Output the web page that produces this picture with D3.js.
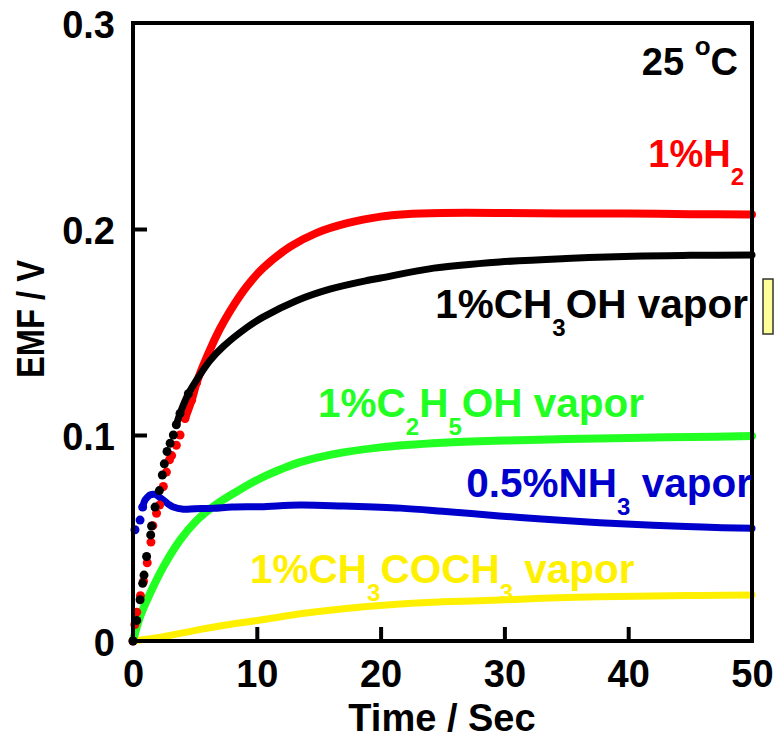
<!DOCTYPE html>
<html><head><meta charset="utf-8">
<script src="https://cdn.jsdelivr.net/npm/d3@7"></script>
<style>body{margin:0;background:#fff}svg{display:block}text{font-family:"Liberation Sans",Arial,sans-serif;font-weight:bold}</style>
</head><body>
<svg id="c" width="778" height="740"></svg>
<script>
const xTicks = [0, 10, 20, 30, 40, 50];
const yTicks = [0, 0.1, 0.2, 0.3];
const yTickLabels = ["0", "0.1", "0.2", "0.3"];

const h2T = [0,0.15,0.3,0.6,0.85,1.15,1.45,1.6,1.9,2.15,2.45,2.7,2.95,3.12,3.5,3.8,4.2,4.74,5.14,5.68,6.36,7.03,7.8,9.2,10.5,12.7,14.8,17.3,20,22,25,30,35,40,45,50];
const h2V = [0,0.008,0.014,0.022,0.029,0.038,0.048,0.056,0.062,0.066,0.075,0.082,0.088,0.09,0.095,0.1,0.108,0.117,0.1254,0.1339,0.1433,0.1516,0.1598,0.1722,0.181,0.1914,0.198,0.2028,0.206,0.2072,0.2078,0.2078,0.2075,0.2075,0.2072,0.207];

const meT = [0,0.3,0.57,0.78,0.89,1.1,1.43,1.5,1.78,2.13,2.37,2.53,2.75,3.0,3.26,3.5,3.8,4.47,5.14,6.2,7.3,9.2,10.5,13.2,15.9,18.9,20,24.3,29.6,35,40.4,45,50];
const meV = [0,0.01,0.02,0.028,0.032,0.041,0.0515,0.0558,0.065,0.073,0.0806,0.086,0.092,0.096,0.1,0.105,0.1105,0.12,0.1267,0.136,0.143,0.1522,0.1572,0.1652,0.1708,0.175,0.1762,0.181,0.184,0.1857,0.1868,0.1872,0.1874];

const etT = [0,0.57,1.37,2.45,3.8,5.14,6.76,8.64,10.3,12,13.5,16,20,25,30,35,40,45,50];
const etV = [0,0.0118,0.023,0.036,0.049,0.0585,0.0665,0.0735,0.079,0.0835,0.0868,0.0905,0.094,0.0962,0.0973,0.098,0.0986,0.099,0.0995];

const nhT = [0.16,0.57,0.78,0.97,1.2,1.37,1.78,2.1,2.45,2.85,3.26,4.07,5,6.5,8,10.3,13.5,17,21.6,25,29.6,33,37.7,42,46,50];
const nhV = [0.054,0.0587,0.065,0.0684,0.070,0.0709,0.0712,0.070,0.0684,0.0665,0.065,0.064,0.0642,0.0644,0.065,0.0652,0.066,0.0655,0.0645,0.063,0.0607,0.0592,0.0574,0.0562,0.0553,0.0547];

const acT = [0,2.45,5.14,7.5,10.3,13.5,17,21.6,25,29.6,33,37.7,42,46,50];
const acV = [0,0.0021,0.0053,0.0078,0.0102,0.0132,0.0157,0.018,0.019,0.0199,0.0207,0.0215,0.0219,0.0221,0.0223];

const svg = d3.select("#c");
const x = d3.scaleLinear().domain([0, 50]).range([133, 752]);
const y = d3.scaleLinear().domain([0, 0.3]).range([641, 23]);

const series = [
  {t: acT, v: acV, color: "#fff000", w: 7, dotsUntil: -1, lineFrom: 0},
  {t: etT, v: etV, color: "#22ff22", w: 8, dotsUntil: -1, lineFrom: 0},
  {t: nhT, v: nhV, color: "#0000cc", w: 7, dotsUntil: 2, lineFrom: 2},
  {t: h2T, v: h2V, color: "#ff0000", w: 8, dotsUntil: 18, lineFrom: 16},
  {t: meT, v: meV, color: "#000000", w: 7, dotsUntil: 17, lineFrom: 15}
];
const line = d3.line().x(d => x(d[0])).y(d => y(d[1])).curve(d3.curveCatmullRom.alpha(0.5));
series.forEach(s => {
  const pts = s.t.map((t, i) => [t, s.v[i]]);
  svg.append("path").attr("d", line(pts.slice(s.lineFrom)))
    .attr("fill", "none").attr("stroke", s.color).attr("stroke-width", s.w)
    .attr("stroke-linecap", "round").attr("stroke-linejoin", "round");
  svg.append("g").selectAll("circle").data(pts.slice(0, s.dotsUntil + 1)).join("circle")
    .attr("cx", d => x(d[0])).attr("cy", d => y(d[1])).attr("r", 4.5).attr("fill", s.color);
});

svg.append("rect").attr("x", 133).attr("y", 23).attr("width", 619).attr("height", 618)
  .attr("fill", "none").attr("stroke", "#000").attr("stroke-width", 4);

const xa = svg.append("g").attr("transform", "translate(0,641)")
  .call(d3.axisBottom(x).tickValues(xTicks).tickSize(-14).tickPadding(0).tickFormat(d3.format("d")));
xa.select(".domain").remove();
xa.selectAll(".tick line").attr("stroke", "#000").attr("stroke-width", 4);
xa.selectAll(".tick text").attr("y", 46).attr("dy", null).attr("font-size", 38)
  .attr("font-family", "Liberation Sans, Arial, sans-serif").attr("font-weight", "bold").attr("fill", "#000");

const ya = svg.append("g").attr("transform", "translate(133,0)")
  .call(d3.axisLeft(y).tickValues(yTicks).tickSize(-14).tickPadding(0).tickFormat((d, i) => yTickLabels[i]));
ya.select(".domain").remove();
ya.selectAll(".tick line").attr("stroke", "#000").attr("stroke-width", 4);
ya.selectAll(".tick text").attr("x", -18).attr("dy", 14).attr("font-size", 38)
  .attr("font-family", "Liberation Sans, Arial, sans-serif").attr("font-weight", "bold").attr("fill", "#000");
xa.selectAll(".tick").filter(d => d === 0 || d === 50).select("line").remove();
ya.selectAll(".tick").filter(d => d === 0 || d === 0.3).select("line").remove();

svg.append("text").attr("x", 442).attr("y", 731).attr("text-anchor", "middle")
  .attr("font-size", 38).text("Time / Sec");
svg.append("text").attr("transform", "translate(44,319) rotate(-90)").attr("text-anchor", "middle")
  .attr("font-size", 38).attr("textLength", 118).attr("lengthAdjust", "spacingAndGlyphs").text("EMF / V");

function label(xp, yp, anchor, color, size, parts) {
  const t = svg.append("text").attr("x", xp).attr("y", yp).attr("text-anchor", anchor)
    .attr("fill", color).attr("font-size", size);
  let shift = 0;
  parts.forEach(p => {
    const sp = t.append("tspan").text(p[0]);
    if (p[1] === "sub") { sp.attr("font-size", 24).attr("dy", 18 - shift); shift = 18; }
    else if (p[1] === "sup") { sp.attr("font-size", 26).attr("dy", -20 - shift); shift = -20; }
    else { if (shift) sp.attr("dy", -shift); shift = 0; }
  });
}
label(738, 75, "end", "#000", 38, [["25 "], ["o", "sup"], ["C"]]);
label(744, 167, "end", "#ff0000", 38, [["1%H"], ["2", "sub"]]);
label(748, 318, "end", "#000", 40.5, [["1%CH"], ["3", "sub"], ["OH vapor"]]);
label(318, 417, "start", "#22ff22", 40.5, [["1%C"], ["2", "sub"], ["H"], ["5", "sub"], ["OH vapor"]]);
label(752, 497, "end", "#0000cc", 40.5, [["0.5%NH"], ["3", "sub"], ["  vapor"]]);
label(250, 583, "start", "#fff000", 40.5, [["1%CH"], ["3", "sub"], ["COCH"], ["3", "sub"], ["  vapor"]]);

svg.append("rect").attr("x", 763).attr("y", 279).attr("width", 10).attr("height", 55)
  .attr("fill", "#ffff99").attr("stroke", "#333").attr("stroke-width", 1.5);
</script>
</body></html>
